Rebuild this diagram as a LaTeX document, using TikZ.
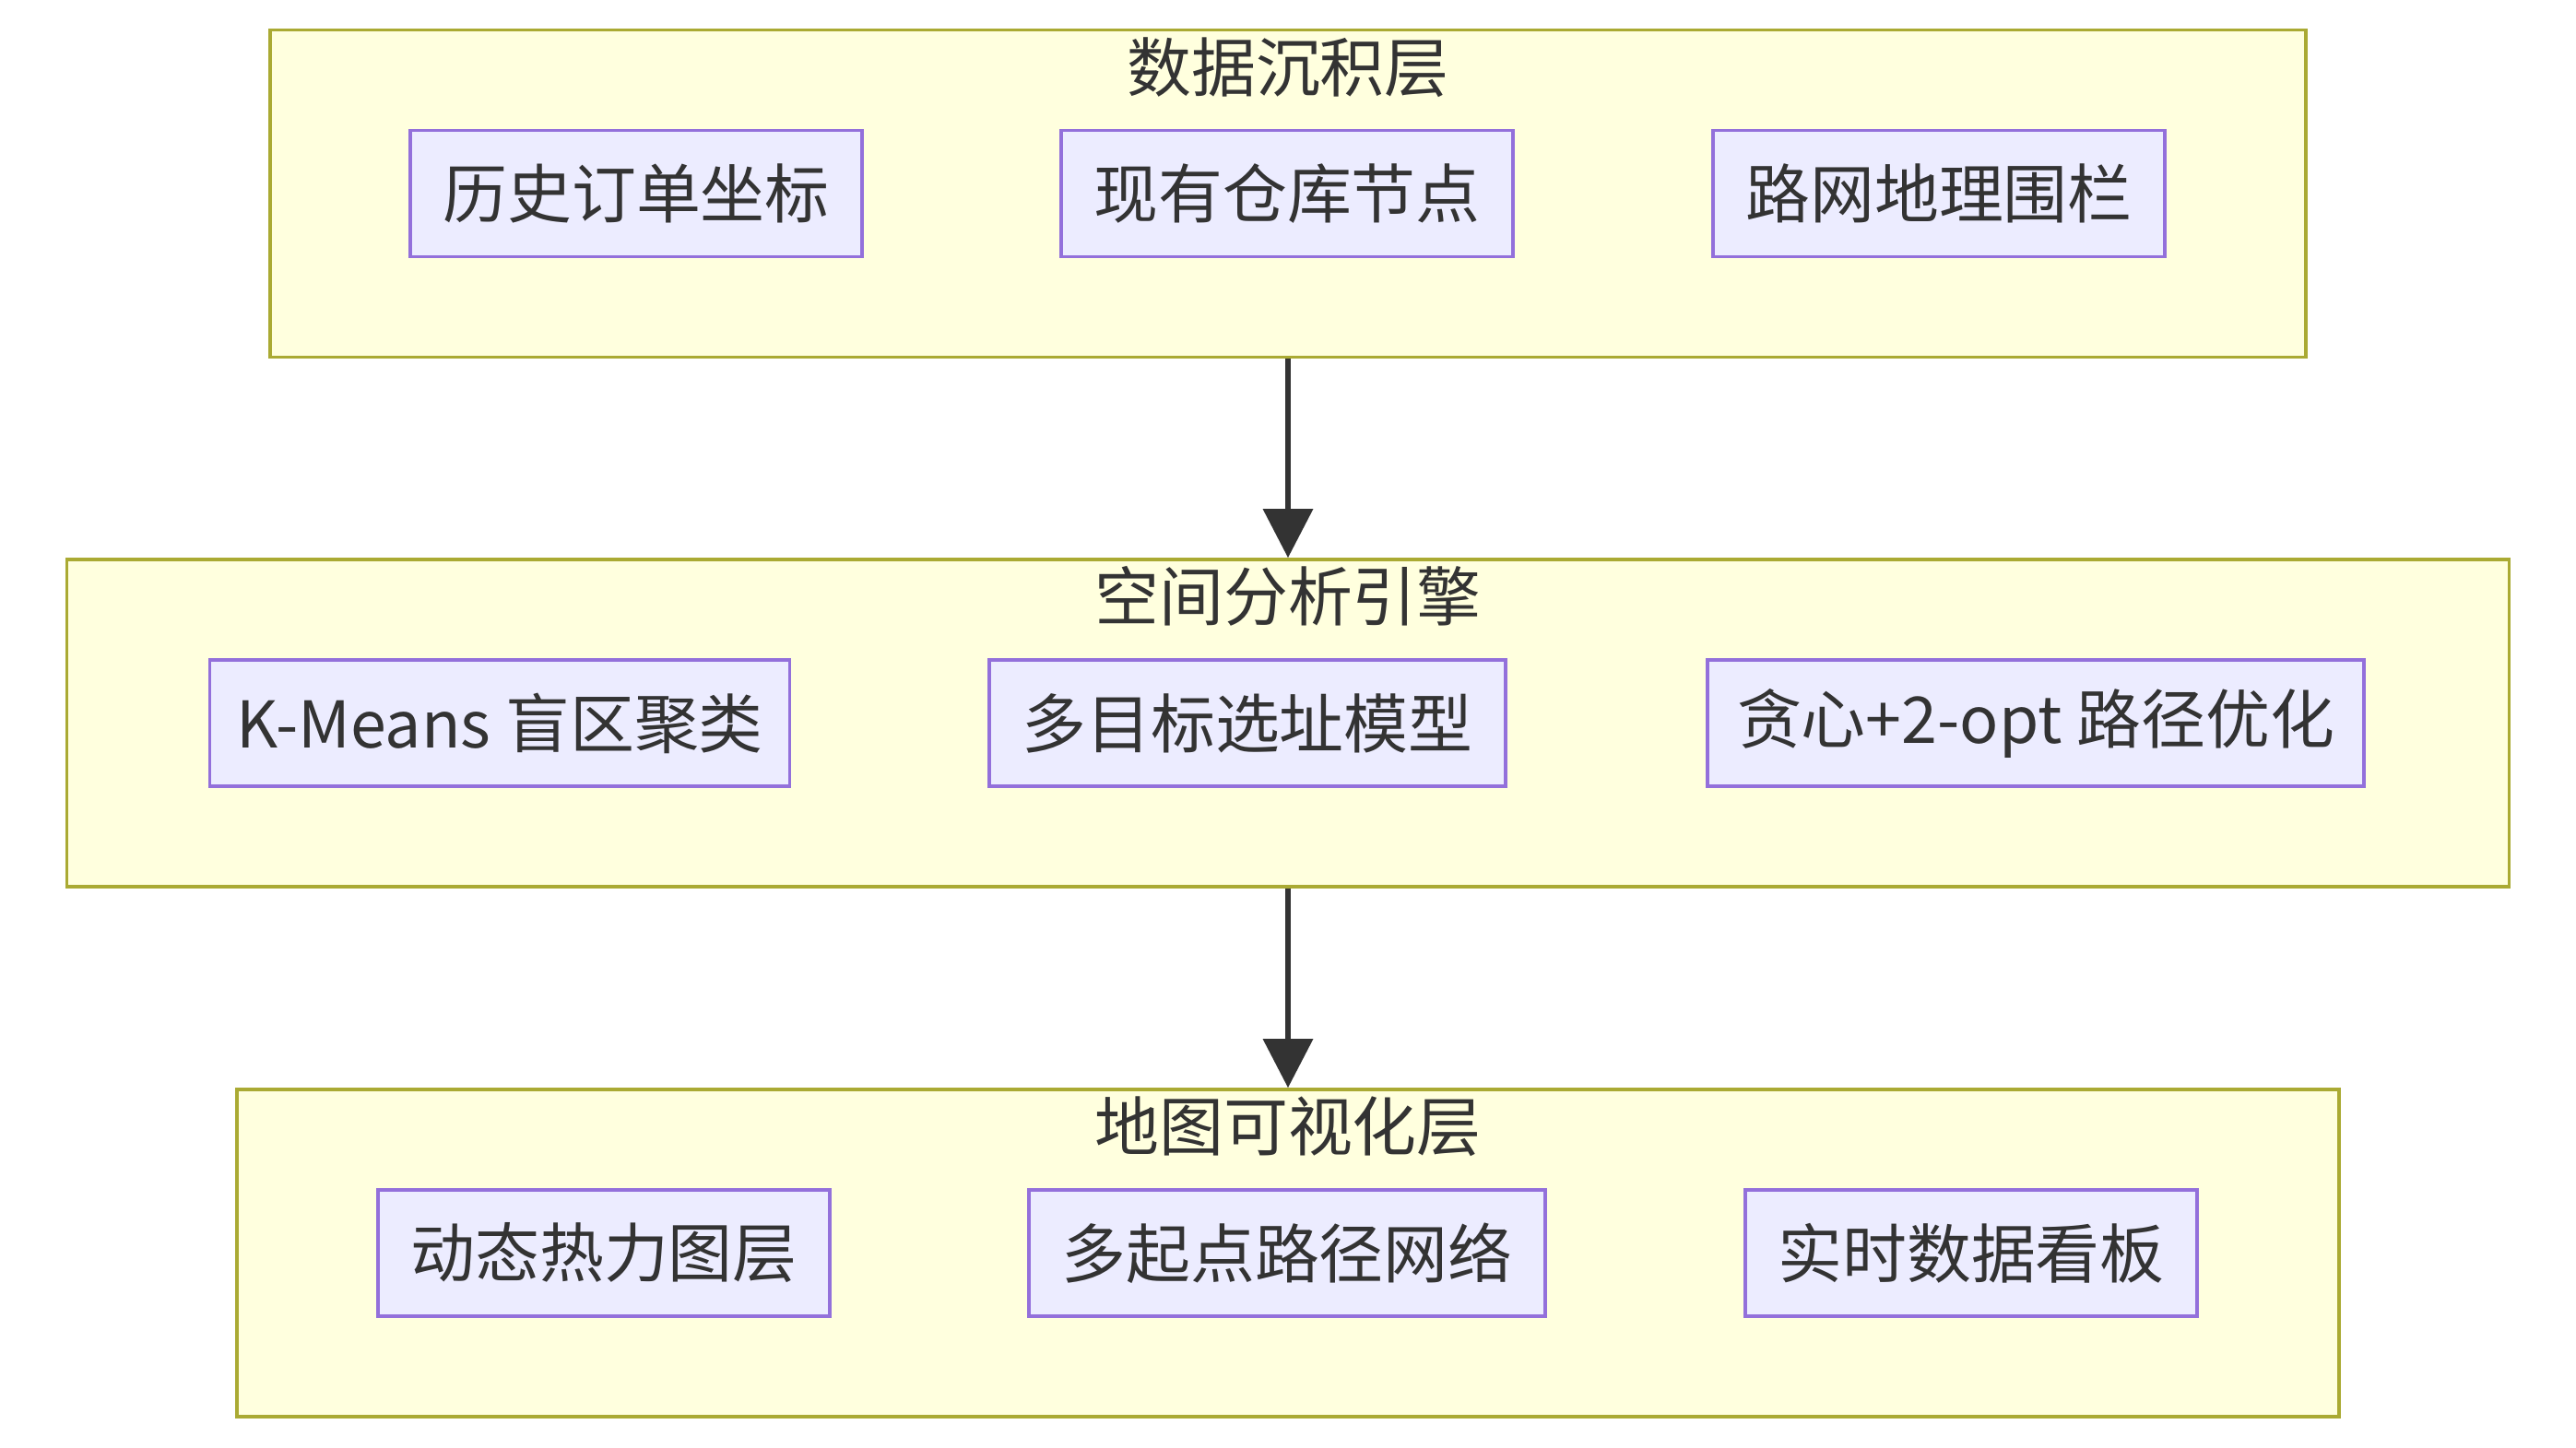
\documentclass[tikz,border=0pt]{standalone}
\usepackage{fontspec}
\setmainfont{Noto Sans CJK SC}
\usetikzlibrary{arrows.meta}
\definecolor{layerfill}{HTML}{FFFFDE}
\definecolor{layerline}{HTML}{AAAA33}
\definecolor{boxfill}{HTML}{ECECFF}
\definecolor{boxline}{HTML}{9370DB}
\definecolor{ink}{HTML}{333333}
\tikzset{
  layer/.style={draw=layerline, fill=layerfill, line width=0.035cm, minimum height=3.55cm},
  layertitle/.style={text=ink, font=\fontsize{19.9}{24}\selectfont},
  entry/.style={draw=boxline, fill=boxfill, line width=0.035cm, text=ink,
    minimum height=1.37cm, inner xsep=0.35cm, font=\fontsize{19.9}{24}\selectfont},
  flow/.style={draw=ink, line width=0.065cm, -{Triangle[length=0.53cm,width=0.53cm]}}
}
\begin{document}
\begin{tikzpicture}
  \useasboundingbox (0,0) rectangle (27.94,15.70);
  % layers
  \node[layer, minimum width=22.08cm] (data) at (13.97,13.60) {};
  \node[layer, minimum width=26.49cm] (engine) at (13.97,7.855) {};
  \node[layer, minimum width=22.80cm] (view) at (13.97,2.105) {};
  \node[layertitle] (datat) at (13.97,14.97) {数据沉积层};
  \node[layertitle] (enginet) at (13.97,9.23) {空间分析引擎};
  \node[layertitle] (viewt) at (13.97,3.48) {地图可视化层};
  % data layer
  \node[entry] (orders) at (6.90,13.60) {历史订单坐标};
  \node[entry] (depots) at (13.96,13.60) {现有仓库节点};
  \node[entry] (fence) at (21.03,13.60) {路网地理围栏};
  % engine layer
  \node[entry, inner xsep=0.285cm] (kmeans) at (5.42,7.855) {K-Means 盲区聚类};
  \node[entry] (siting) at (13.53,7.855) {多目标选址模型};
  \node[entry, inner xsep=0.32cm] (route) at (22.08,7.855) {贪心+2-opt 路径优化};
  % view layer
  \node[entry] (heat) at (6.55,2.105) {动态热力图层};
  \node[entry] (paths) at (13.96,2.105) {多起点路径网络};
  \node[entry] (board) at (21.38,2.105) {实时数据看板};
  \begin{scope}
    \draw[flow] (data.south) -- (engine.north);
    \draw[flow] (engine.south) -- (view.north);
  \end{scope}
\end{tikzpicture}
\end{document}
